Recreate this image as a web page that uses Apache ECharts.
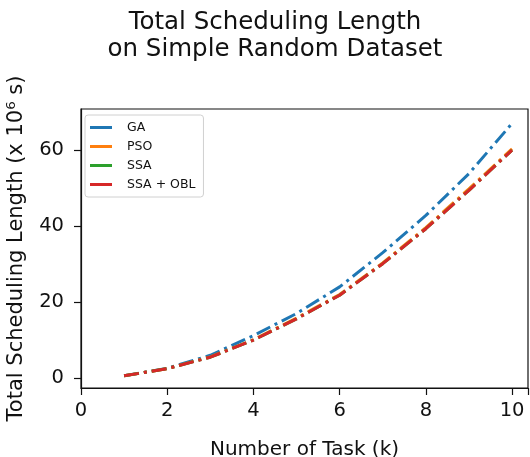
<!DOCTYPE html>
<html><head><meta charset="utf-8">
<script src="https://cdn.jsdelivr.net/npm/echarts@6/dist/echarts.min.js"></script>
<style>html,body{margin:0;padding:0;background:#fff}#c{width:530px;height:457px}</style>
</head><body><div id="c"></div>
<script>
const tasks = [1,2,3,4,5,6,7,8,9,10];
const gaValues = [0.6,2.6,6.0,11.2,17.0,24.0,33.0,42.8,53.8,67.0];
const psoValues = [0.6,2.5,5.6,10.1,15.8,22.0,30.3,39.6,49.8,60.3];
const ssaValues = [0.6,2.5,5.5,10.0,15.6,21.8,30.1,39.3,49.4,60.0];
const ssaOblValues = [0.6,2.5,5.5,10.0,15.6,21.8,30.1,39.3,49.4,60.0];
const seriesNames = ['GA','PSO','SSA','SSA + OBL'];
const seriesColors = ['#1f77b4','#ff7f0e','#2ca02c','#d62728'];
const xTicks = [0,2,4,6,8,10];
const yTicks = [0,20,40,60];

const font = 'DejaVu Sans';
const allData = [gaValues, psoValues, ssaValues, ssaOblValues];
const chart = echarts.init(document.getElementById('c'));
chart.setOption({
  animation: false,
  title: {
    text: 'Total Scheduling Length\non Simple Random Dataset',
    left: 270, textAlign: 'center', top: 4,
    textStyle: {fontFamily: font, fontSize: 24.5, fontWeight: 'normal', color: '#111', lineHeight: 27}
  },
  legend: {
    orient: 'vertical', left: 85, top: 115,
    data: seriesNames, icon: 'rect', itemWidth: 22, itemHeight: 3, itemGap: 6,
    borderColor: '#d0d0d0', borderWidth: 1, borderRadius: 3, padding: [6, 8, 6, 5],
    textStyle: {fontFamily: font, fontSize: 12.5, color: '#111', padding: [0,0,0,10]}
  },
  grid: {left: 81, right: 2, top: 109, bottom: 69, containLabel: false, outerBoundsMode: 'none',
    show: true, borderColor: '#111', borderWidth: 1.2, backgroundColor: 'transparent'},
  xAxis: {
    type: 'value', min: 0, max: 10.37, interval: 2,
    name: 'Number of Task (k)', nameLocation: 'middle', nameGap: 52,
    nameTextStyle: {fontFamily: font, fontSize: 20, color: '#111'},
    axisLine: {show: true, onZero: false, lineStyle: {color: '#111', width: 1.2}},
    axisTick: {show: true, length: 7, lineStyle: {color: '#111', width: 1.2}},
    axisLabel: {fontFamily: font, fontSize: 19.5, color: '#111', margin: 13,
      formatter: v => xTicks.includes(v) ? String(v) : ''},
    splitLine: {show: false}
  },
  yAxis: {
    type: 'value', min: -2.6, max: 70.8,
    name: 'Total Scheduling Length (x 10⁶ s)', nameLocation: 'middle', nameGap: 54,
    nameTextStyle: {fontFamily: font, fontSize: 21, color: '#111'},
    axisLine: {show: true, onZero: false, lineStyle: {color: '#111', width: 1.2}},
    axisTick: {show: true, length: 7, lineStyle: {color: '#111', width: 1.2}, customValues: yTicks},
    axisLabel: {fontFamily: font, fontSize: 19.5, color: '#111', margin: 17, customValues: yTicks},
    splitLine: {show: false}
  },
  series: seriesNames.map((n, i) => ({
    name: n, type: 'line', showSymbol: false, symbol: 'none',
    color: seriesColors[i],
    data: tasks.map((t, j) => [t, allData[i][j]]),
    lineStyle: {width: 3, type: [15, 5, 3, 5], color: seriesColors[i]},
    smooth: false
  }))
});
</script></body></html>
